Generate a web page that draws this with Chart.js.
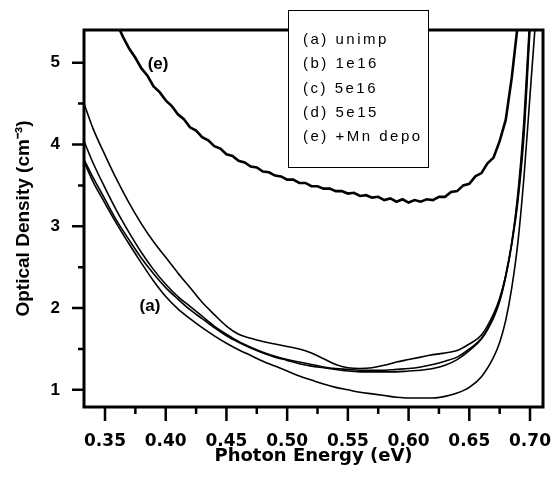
<!DOCTYPE html>
<html>
<head>
<meta charset="utf-8">
<script src="https://cdn.jsdelivr.net/npm/chart.js@4.4.1/dist/chart.umd.min.js"></script>
<style>
html, body { margin: 0; padding: 0; background: #fff; }
#wrap { width: 553px; height: 478px; }
</style>
</head>
<body>
<div id="wrap"><canvas id="odChart" width="553" height="478"></canvas></div>
<script>
// photon energy grid (eV) shared by curves (a)-(d)
var energy = [0.333, 0.34, 0.35, 0.36, 0.37, 0.38, 0.39, 0.40, 0.41, 0.42, 0.43, 0.44, 0.45, 0.46,
    0.47, 0.48, 0.49, 0.50, 0.51, 0.52, 0.53, 0.54, 0.55, 0.56, 0.57, 0.58, 0.59, 0.60, 0.61, 0.62,
    0.63, 0.64, 0.65, 0.66, 0.67, 0.675, 0.68, 0.685, 0.69, 0.695, 0.70, 0.705];

var densityA = [3.78, 3.55, 3.28, 3.02, 2.78, 2.55, 2.33, 2.14, 1.99, 1.87, 1.76, 1.66, 1.57, 1.49,
    1.42, 1.35, 1.29, 1.23, 1.17, 1.12, 1.07, 1.03, 1.00, 0.97, 0.95, 0.93, 0.91, 0.90, 0.90, 0.90,
    0.92, 0.96, 1.03, 1.16, 1.40, 1.58, 1.85, 2.25, 2.80, 3.6, 4.6, 5.6];
var densityB = [4.03, 3.78, 3.47, 3.18, 2.92, 2.68, 2.47, 2.29, 2.14, 2.02, 1.90, 1.78, 1.68, 1.59,
    1.52, 1.46, 1.41, 1.37, 1.34, 1.31, 1.28, 1.26, 1.25, 1.24, 1.24, 1.24, 1.25, 1.26, 1.28, 1.31,
    1.35, 1.40, 1.50, 1.63, 1.90, 2.10, 2.40, 2.80, 3.35, 4.2, 5.5, 6.6];
var densityC = [4.49, 4.20, 3.87, 3.56, 3.28, 3.03, 2.81, 2.62, 2.43, 2.25, 2.07, 1.92, 1.78, 1.68,
    1.63, 1.59, 1.56, 1.53, 1.50, 1.45, 1.38, 1.31, 1.27, 1.26, 1.27, 1.30, 1.34, 1.37, 1.40, 1.43,
    1.45, 1.48, 1.56, 1.67, 1.93, 2.12, 2.40, 2.80, 3.40, 4.3, 5.6, 6.7];
var densityD = [3.81, 3.60, 3.33, 3.06, 2.83, 2.61, 2.42, 2.25, 2.11, 1.98, 1.87, 1.76, 1.66, 1.58,
    1.51, 1.45, 1.40, 1.36, 1.32, 1.29, 1.27, 1.25, 1.23, 1.22, 1.22, 1.22, 1.22, 1.23, 1.24, 1.26,
    1.30, 1.37, 1.48, 1.62, 1.88, 2.08, 2.38, 2.78, 3.30, 4.1, 5.4, 6.5];

// noisy +Mn deposited curve
var energyE = [0.360, 0.365, 0.370, 0.375, 0.380, 0.385, 0.390, 0.395, 0.400, 0.405, 0.410, 0.415,
    0.420, 0.425, 0.430, 0.435, 0.440, 0.445, 0.450, 0.455, 0.460, 0.465, 0.470, 0.475, 0.480, 0.485,
    0.490, 0.495, 0.500, 0.505, 0.510, 0.515, 0.520, 0.525, 0.530, 0.535, 0.540, 0.545, 0.550, 0.555,
    0.560, 0.565, 0.570, 0.575, 0.580, 0.585, 0.590, 0.595, 0.600, 0.605, 0.610, 0.615, 0.620, 0.625,
    0.630, 0.635, 0.640, 0.645, 0.650, 0.655, 0.660, 0.665, 0.670, 0.675, 0.680, 0.685, 0.690];
var densityE = [5.47, 5.31, 5.17, 5.06, 4.93, 4.84, 4.71, 4.64, 4.54, 4.47, 4.37, 4.31,
    4.21, 4.17, 4.09, 4.05, 3.98, 3.95, 3.88, 3.86, 3.80, 3.78, 3.73, 3.72, 3.67, 3.66,
    3.62, 3.61, 3.57, 3.57, 3.53, 3.53, 3.49, 3.49, 3.46, 3.46, 3.43, 3.43, 3.40, 3.41,
    3.37, 3.38, 3.35, 3.36, 3.32, 3.34, 3.30, 3.33, 3.29, 3.32, 3.30, 3.33, 3.32, 3.36,
    3.36, 3.42, 3.43, 3.50, 3.52, 3.61, 3.65, 3.77, 3.84, 4.04, 4.30, 4.82, 5.48];

var seriesLabels = ['(a) unimp', '(b) 1e16', '(c) 5e16', '(d) 5e15', '(e) +Mn depo'];

var xMajorTicks = [0.35, 0.40, 0.45, 0.50, 0.55, 0.60, 0.65, 0.70];
var xMinorTicks = [0.375, 0.425, 0.475, 0.525, 0.575, 0.625, 0.675];
var yMajorTicks = [1, 2, 3, 4, 5];
var yMinorTicks = [1.5, 2.5, 3.5, 4.5];

// curve tags placed in data coordinates
var curveTags = [
    { text: '(e)', x: 0.3937, y: 4.98 },
    { text: '(a)', x: 0.387, y: 2.02 }
];

function toPoints(xs, ys) {
    return xs.map(function (x, i) { return { x: x, y: ys[i] }; });
}

// keep the axes from pushing the plot area around
function noScalePadding(s) {
    s.paddingLeft = 0;
    s.paddingRight = 0;
    s.paddingTop = 0;
    s.paddingBottom = 0;
}

var frameAndTicks = {
    id: 'frameAndTicks',
    afterDraw: function (chart) {
        var ctx = chart.ctx, a = chart.chartArea;
        var xs = chart.scales.x, ys = chart.scales.y;
        ctx.save();
        ctx.strokeStyle = '#000';
        ctx.lineWidth = 3;
        ctx.strokeRect(a.left, a.top, a.right - a.left, a.bottom - a.top);

        ctx.lineWidth = 2.5;
        ctx.beginPath();
        xMajorTicks.forEach(function (v) {
            var p = xs.getPixelForValue(v);
            ctx.moveTo(p, a.bottom); ctx.lineTo(p, a.bottom + 14);
        });
        xMinorTicks.forEach(function (v) {
            var p = xs.getPixelForValue(v);
            ctx.moveTo(p, a.bottom); ctx.lineTo(p, a.bottom + 7);
        });
        yMajorTicks.forEach(function (v) {
            var p = ys.getPixelForValue(v);
            ctx.moveTo(a.left, p); ctx.lineTo(a.left - 12, p);
        });
        yMinorTicks.forEach(function (v) {
            var p = ys.getPixelForValue(v);
            ctx.moveTo(a.left, p); ctx.lineTo(a.left - 6, p);
        });
        ctx.stroke();

        // tags next to curves
        ctx.fillStyle = '#000';
        ctx.font = 'bold 17px "Liberation Sans", Arial, sans-serif';
        ctx.textAlign = 'center';
        ctx.textBaseline = 'middle';
        curveTags.forEach(function (t) {
            ctx.fillText(t.text, xs.getPixelForValue(t.x), ys.getPixelForValue(t.y));
        });

        // boxed legend
        ctx.fillStyle = '#fff';
        ctx.fillRect(288, 10, 140, 157);
        ctx.lineWidth = 1;
        ctx.strokeRect(288.5, 10.5, 140, 157);
        ctx.fillStyle = '#000';
        ctx.font = '15px "Liberation Sans", Arial, sans-serif';
        ctx.textAlign = 'left';
        ctx.letterSpacing = '2.5px';
        chart.data.datasets.forEach(function (ds, i) {
            ctx.fillText(ds.label, 303, 40 + i * 24.3);
        });
        ctx.restore();
    }
};

document.addEventListener('DOMContentLoaded', function () {
    var ctx = document.getElementById('odChart').getContext('2d');
    var lowCurves = [densityA, densityB, densityC, densityD];
    var datasets = lowCurves.map(function (ys, i) {
        return {
            label: seriesLabels[i],
            data: toPoints(energy, ys),
            borderColor: '#000',
            borderWidth: 1.6,
            pointRadius: 0,
            cubicInterpolationMode: 'monotone',
            fill: false
        };
    });
    datasets.push({
        label: seriesLabels[4],
        data: toPoints(energyE, densityE),
        borderColor: '#000',
        borderWidth: 2.6,
        pointRadius: 0,
        tension: 0,
        fill: false
    });

    new Chart(ctx, {
        type: 'line',
        data: { datasets: datasets },
        options: {
            responsive: false,
            animation: false,
            layout: { padding: { top: 30, right: 10, left: 0, bottom: 0 } },
            plugins: { legend: { display: false }, tooltip: { enabled: false } },
            scales: {
                x: {
                    type: 'linear',
                    min: 0.3327,
                    max: 0.7107,
                    afterBuildTicks: function (s) { s.ticks = xMajorTicks.map(function (v) { return { value: v }; }); },
                    afterFit: function (s) { s.height = 71; noScalePadding(s); },
                    grid: { drawOnChartArea: false, drawTicks: false },
                    border: { display: false },
                    ticks: {
                        color: '#000',
                        padding: 24,
                        maxRotation: 0,
                        font: { family: '"DejaVu Sans", sans-serif', weight: 'bold', size: 17 },
                        callback: function (v) { return v.toFixed(2); }
                    },
                    title: {
                        display: true,
                        text: 'Photon Energy (eV)',
                        color: '#000',
                        font: { family: '"DejaVu Sans", sans-serif', weight: 'bold', size: 18 },
                        padding: { top: 0, bottom: 11 }
                    }
                },
                y: {
                    min: 0.79,
                    max: 5.4,
                    afterBuildTicks: function (s) { s.ticks = yMajorTicks.map(function (v) { return { value: v }; }); },
                    afterFit: function (s) { s.width = 84; noScalePadding(s); },
                    grid: { drawOnChartArea: false, drawTicks: false },
                    border: { display: false },
                    ticks: {
                        color: '#000',
                        padding: 24,
                        font: { family: '"Liberation Sans", Arial, sans-serif', weight: 'bold', size: 17 }
                    },
                    title: {
                        display: true,
                        text: 'Optical Density (cm⁻³)',
                        color: '#000',
                        font: { family: '"Liberation Sans Narrow", "Liberation Sans", Arial, sans-serif', weight: 'bold', size: 19 },
                        padding: { top: 12, bottom: 0 }
                    }
                }
            }
        },
        plugins: [frameAndTicks]
    });
});
</script>
</body>
</html>
